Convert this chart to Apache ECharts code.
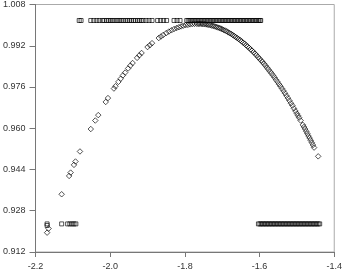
<!DOCTYPE html>
<html>
<head>
<meta charset="utf-8">
<script src="https://cdn.jsdelivr.net/npm/echarts@6/dist/echarts.min.js"></script>
<style>
  html, body { margin: 0; padding: 0; background: #fff; }
  #chart { width: 345px; height: 274px; }
</style>
</head>
<body>
<div id="chart"></div>
<script>
// tick labels
const xTicks = [-2.2, -2.0, -1.8, -1.6, -1.4];
const yTicks = [0.912, 0.928, 0.944, 0.960, 0.976, 0.992, 1.008];

// diamond curve
const diamondX = [
  -2.169, -2.165, -2.130, -2.110, -2.106, -2.097, -2.093, -2.081, -2.052, -2.040,
  -2.032, -2.012, -2.006, -1.990, -1.986, -1.978, -1.972, -1.966, -1.960, -1.952,
  -1.946, -1.940, -1.928, -1.922, -1.916, -1.900, -1.894, -1.888, -1.870, -1.864,
  -1.858, -1.850, -1.843, -1.836, -1.829, -1.822, -1.816, -1.810, -1.804, -1.798,
  -1.792, -1.786, -1.780, -1.774, -1.768,
  -1.764, -1.760, -1.756, -1.752, -1.748, -1.744, -1.740, -1.736, -1.732, -1.728,
  -1.724, -1.720, -1.716, -1.712, -1.708, -1.704, -1.700, -1.696, -1.692, -1.688,
  -1.684, -1.680, -1.676, -1.672, -1.668, -1.664, -1.660, -1.656, -1.652, -1.648,
  -1.644, -1.640, -1.636, -1.632, -1.628, -1.624, -1.620, -1.616, -1.612, -1.608,
  -1.604, -1.600, -1.596, -1.592, -1.588, -1.584, -1.580, -1.576, -1.572, -1.568,
  -1.564, -1.560, -1.556, -1.552, -1.548, -1.544, -1.540, -1.536, -1.532, -1.528,
  -1.524, -1.520, -1.516, -1.512, -1.508, -1.504, -1.500, -1.497, -1.494, -1.490,
  -1.484, -1.481, -1.478, -1.475, -1.472, -1.469, -1.466, -1.463, -1.460, -1.457,
  -1.454, -1.443
];
const diamondY = [
  0.9195, 0.9211, 0.9344, 0.9415, 0.9428, 0.9458, 0.9471, 0.9510, 0.9597, 0.9630,
  0.9651, 0.9702, 0.9717, 0.9754, 0.9763, 0.9780, 0.9792, 0.9805, 0.9816, 0.9832,
  0.9843, 0.9853, 0.9873, 0.9883, 0.9892, 0.9915, 0.9922, 0.9930, 0.9950, 0.9956,
  0.9962, 0.9969, 0.9975, 0.9980, 0.9985, 0.9989, 0.9992, 0.9995, 0.9998, 1.0000,
  1.0001, 1.0003, 1.0004, 1.0005, 1.0005,
  1.0005, 1.0005, 1.0005, 1.0004, 1.0004, 1.0003, 1.0002, 1.0001, 1.0000, 0.9998,
  0.9997, 0.9995, 0.9993, 0.9991, 0.9989, 0.9987, 0.9984, 0.9981, 0.9979, 0.9976,
  0.9972, 0.9969, 0.9966, 0.9962, 0.9958, 0.9954, 0.9950, 0.9946, 0.9942, 0.9937,
  0.9932, 0.9928, 0.9922, 0.9917, 0.9912, 0.9906, 0.9901, 0.9895, 0.9889, 0.9883,
  0.9876, 0.9870, 0.9863, 0.9857, 0.9850, 0.9843, 0.9835, 0.9828, 0.9820, 0.9813,
  0.9805, 0.9797, 0.9788, 0.9780, 0.9771, 0.9763, 0.9754, 0.9745, 0.9736, 0.9726,
  0.9717, 0.9707, 0.9697, 0.9688, 0.9677, 0.9667, 0.9657, 0.9649, 0.9641, 0.9630,
  0.9613, 0.9605, 0.9597, 0.9588, 0.9579, 0.9570, 0.9562, 0.9553, 0.9544, 0.9535,
  0.9525, 0.9491
];

// upper row of squares
const topRowLevel = 1.0018;
const topRowX = [
  -2.083, -2.078, -2.052, -2.044, -2.036, -2.029, -2.021, -2.016, -2.010, -2.005,
  -2.000, -1.995, -1.990, -1.984, -1.979, -1.974, -1.969, -1.964, -1.958, -1.953,
  -1.948, -1.943, -1.938, -1.933, -1.927, -1.922, -1.917, -1.912, -1.904, -1.896,
  -1.888, -1.873, -1.865, -1.857, -1.849, -1.829, -1.821, -1.813,
  -1.795, -1.791, -1.787, -1.783, -1.779, -1.775, -1.771, -1.767, -1.763, -1.759,
  -1.755, -1.751, -1.747, -1.743, -1.739, -1.735, -1.731, -1.727, -1.723, -1.719,
  -1.715, -1.711, -1.707, -1.703, -1.699, -1.695, -1.691, -1.687, -1.683, -1.679,
  -1.675, -1.671, -1.667, -1.663, -1.659, -1.655, -1.651, -1.647, -1.643, -1.639,
  -1.635, -1.631, -1.627, -1.623, -1.619, -1.615, -1.611, -1.607, -1.603, -1.599,
  -1.597
];

// lower row of squares
const bottomRowLevel = 0.9229;
const bottomRowX = [
  -2.169, -2.130, -2.114, -2.108, -2.102, -2.097, -2.092,
  -1.603, -1.599, -1.595, -1.591, -1.587, -1.583, -1.579, -1.575, -1.571, -1.567,
  -1.563, -1.559, -1.555, -1.551, -1.547, -1.543, -1.539, -1.535, -1.531, -1.527,
  -1.523, -1.519, -1.515, -1.511, -1.507, -1.503, -1.499, -1.495, -1.491, -1.487,
  -1.483, -1.479, -1.475, -1.471, -1.467, -1.463, -1.459, -1.455, -1.451, -1.447,
  -1.443, -1.439
];
const bottomExtraX = [-2.169];
const bottomExtraY = [0.9223];

const chart = echarts.init(document.getElementById("chart"));

const zip = (xs, ys) => xs.map((x, i) => [x, ys[i]]);
const row = (xs, level) => xs.map(x => [x, level]);

const markStyle = {
  color: "rgba(0,0,0,0)",
  borderColor: "#000",
  borderWidth: 0.85
};

const axisText = {
  color: "#333",
  fontSize: 9,
  fontFamily: "Liberation Sans"
};

const option = {
  animation: false,
  grid: {
    left: 31,
    right: 6,
    top: 3,
    bottom: 22,
    show: true,
    borderColor: "#aaa",
    borderWidth: 1
  },
  xAxis: {
    type: "value",
    min: xTicks[0],
    max: xTicks[xTicks.length - 1],
    interval: 0.2,
    axisLine: {show: true, lineStyle: {color: "#777"}},
    axisTick: {show: true, length: 5, lineStyle: {color: "#777"}},
    splitLine: {show: false},
    axisLabel: {
      ...axisText,
      margin: 10,
      showMinLabel: true,
      showMaxLabel: true,
      formatter: v => v.toFixed(1)
    }
  },
  yAxis: {
    type: "value",
    min: yTicks[0],
    max: yTicks[yTicks.length - 1],
    interval: 0.016,
    axisLine: {show: true, lineStyle: {color: "#777"}},
    axisTick: {show: true, length: 6, lineStyle: {color: "#777"}},
    splitLine: {show: false},
    axisLabel: {
      ...axisText,
      margin: 10,
      showMinLabel: true,
      showMaxLabel: true,
      formatter: v => v.toFixed(3)
    }
  },
  series: [
    {
      type: "scatter",
      symbol: "diamond",
      symbolSize: 5.5,
      itemStyle: markStyle,
      data: zip(diamondX, diamondY)
    },
    {
      type: "scatter",
      symbol: "rect",
      symbolSize: 4,
      itemStyle: markStyle,
      data: row(topRowX, topRowLevel)
    },
    {
      type: "scatter",
      symbol: "rect",
      symbolSize: 4,
      itemStyle: markStyle,
      data: row(bottomRowX, bottomRowLevel).concat(zip(bottomExtraX, bottomExtraY))
    }
  ]
};

chart.setOption(option);
</script>
</body>
</html>
